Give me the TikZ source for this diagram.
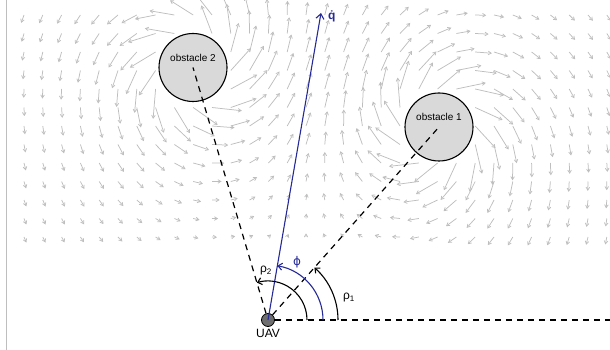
\documentclass[tikz,border=0pt]{standalone}
\usepackage{fontspec}
\setmainfont{Liberation Sans}
\newfontfamily\grk{DejaVu Sans}
\usetikzlibrary{positioning,arrows.meta}
\definecolor{qblue}{RGB}{38,42,150}
\definecolor{fieldgray}{RGB}{190,190,190}
\definecolor{obsfill}{RGB}{217,217,217}
\definecolor{uavfill}{RGB}{110,110,110}

\begin{document}
\begin{tikzpicture}[x=1pt, y=1pt,
    field/.style={fieldgray, line width=0.75pt, -{Straight Barb[length=3pt, width=3.6pt]}},
    obstacle/.style={circle, draw, line width=1.1pt, fill=obsfill, minimum size=68pt, inner sep=0pt},
    vehicle/.style={circle, draw, line width=0.8pt, fill=uavfill, minimum size=13pt, inner sep=0pt},
    dashline/.style={line width=1.2pt, dash pattern=on 6pt off 5pt},
    angarc/.style={line width=1.1pt, -{Straight Barb[length=4pt, width=7pt]}},
    label/.style={font=\large, inner sep=1pt}]
  \useasboundingbox (0,0) rectangle (610,350);
  \draw[fieldgray, line width=0.7pt] (6,0) -- (6,350);
  % guidance field around the two obstacles
  \foreach \i in {0,...,31} {
    \foreach \j in {0,...,12} {
      \pgfmathsetmacro\px{(24+18.8*\i)/100}
      \pgfmathsetmacro\py{(113+18.5*\j)/100}
      \pgfmathsetmacro\ax{\px-4.39}
      \pgfmathsetmacro\ay{\py-2.23}
      \pgfmathsetmacro\ra{max(\ax*\ax+\ay*\ay,0.1)}
      \pgfmathsetmacro\bx{\px-1.93}
      \pgfmathsetmacro\by{\py-2.825}
      \pgfmathsetmacro\rb{max(\bx*\bx+\by*\by,0.1)}
      \pgfmathsetmacro\vx{\ay/\ra+0.3*\ax/(\ra*sqrt(\ra))-\by/\rb+0.3*\bx/(\rb*sqrt(\rb))}
      \pgfmathsetmacro\vy{-\ax/\ra+0.3*\ay/(\ra*sqrt(\ra))+\bx/\rb+0.3*\by/(\rb*sqrt(\rb))-0.32}
      \pgfmathsetmacro\vn{max(sqrt(\vx*\vx+\vy*\vy),0.01)}
      \pgfmathsetmacro\len{min(13*\vn,30)*(\ra>0.12)*(\rb>0.12)}
      \ifdim\len pt>0.5pt
        \draw[field] (24+18.8*\i, 113+18.5*\j) -- ++({\len*\vx/\vn}, {\len*\vy/\vn});
      \fi
    }
  }
  \node[obstacle] (obs1) at (439,223) {};
  \node[obstacle] (obs2) at (193,282.5) {};
  \node[inner sep=0pt] at ([yshift=10pt]obs1.center) {obstacle 1};
  \node[inner sep=0pt] at ([yshift=10pt]obs2.center) {obstacle 2};
  \node[vehicle] (uav) at (268,30) {};
  \coordinate (east) at (610,30);
  \coordinate (qdot) at (321,337);
  \node[label, below=1pt of uav] (uavtext) {UAV};
  % lines of sight and velocity
  \draw[dashline] (uav) -- (east);
  \draw[dashline] (uav) -- (obs1.center);
  \draw[dashline] (uav) -- (obs2.center);
  \draw[qblue, line width=1.1pt, -{Straight Barb[length=5pt, width=8pt]}] (uav.center) -- (qdot);
  \node[label, qblue, anchor=west] (qlabel) at ([xshift=6pt, yshift=-3pt]qdot)
    {\bfseries\ooalign{q\cr\hidewidth˙\hidewidth\cr}};
  % angles
  \draw[angarc] ([shift={(0:39)}]uav.center) arc[start angle=0, end angle=106.5, radius=39pt];
  \draw[angarc, qblue] ([shift={(0:55)}]uav.center) arc[start angle=0, end angle=80.2, radius=55pt];
  \draw[angarc] ([shift={(0:70)}]uav.center) arc[start angle=0, end angle=48.5, radius=70pt];
  \node[label] (rho2) at (266,79) {ρ\textsubscript{2}};
  \node[label, qblue] (phi) at (297,88) {\grk ϕ};
  \node[label] (rho1) at (349,52) {ρ\textsubscript{1}};
\end{tikzpicture}
\end{document}
